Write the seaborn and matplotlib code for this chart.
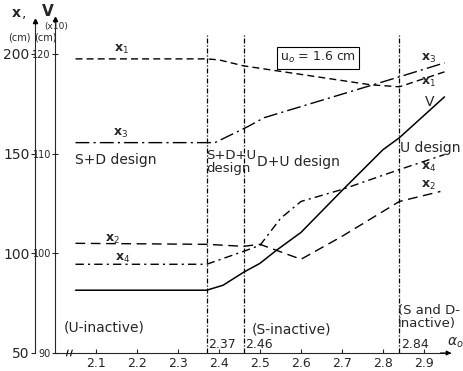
import matplotlib
matplotlib.use("Agg")
import matplotlib.pyplot as plt
from matplotlib.lines import Line2D
import seaborn as sns

# Design variables x_i and volume V against alpha_o
alpha_x1 = [2.05, 2.37, 2.40, 2.46, 2.77, 2.84, 2.95]
x1 = [197.5, 197.5, 197.0, 194.0, 184.5, 183.5, 191.0]

alpha_x3 = [2.05, 2.39, 2.47, 2.51, 2.84, 2.95]
x3 = [155.5, 155.5, 163.5, 168.0, 188.5, 195.5]

alpha_x2 = [2.05, 2.37, 2.46, 2.50, 2.60, 2.70, 2.84, 2.94]
x2 = [105.0, 104.5, 103.5, 104.5, 97.0, 108.5, 126.0, 131.0]

alpha_x4 = [2.05, 2.37, 2.46, 2.50, 2.55, 2.60, 2.70, 2.84, 2.95]
x4 = [94.5, 94.5, 101.0, 104.0, 117.5, 126.0, 132.0, 142.0, 149.5]

alpha_v = [2.05, 2.37, 2.41, 2.46, 2.50, 2.54, 2.60, 2.70, 2.80, 2.84, 2.95]
V = [96.3, 96.3, 96.8, 98.1, 99.0, 100.3, 102.1, 106.3, 110.4, 111.6, 115.7]

boundaries = [2.37, 2.46, 2.84]
boundary_labels = ["2.37", "2.46", "2.84"]
xticks = [2.1, 2.2, 2.3, 2.4, 2.5, 2.6, 2.7, 2.8, 2.9]
x_ticks_left = [50, 100, 150, 200]
v_ticks = [90, 100, 110, 120]

sns.set_style("ticks")
plt.rcParams["font.family"] = ["DejaVu Sans"]

W, H = 463, 371
fig = plt.figure(figsize=(W / 100, H / 100), dpi=100)
left_px, right_px, top_px, bot_px = 55, 450, 20, 353
ax = fig.add_axes([left_px / W, 1 - bot_px / H, (right_px - left_px) / W,
                   (bot_px - top_px) / H])
ax.patch.set_alpha(0)

a_min = 2.0
a_max = 2.0 + (right_px - left_px) / 410
x_top = 200 + (54 - top_px) / 2
v_top = 120 + (54 - top_px) / 9.97
ax.set_xlim(a_min, a_max)
ax.set_ylim(50, x_top)

k = dict(color="black", lw=1.0, ax=ax, legend=False)
sns.lineplot(x=alpha_x1, y=x1, linestyle=(0, (5, 3)), **k)
sns.lineplot(x=alpha_x3, y=x3, linestyle=(0, (10, 3, 1.5, 3)), **k)
sns.lineplot(x=alpha_x2, y=x2, linestyle=(0, (7, 4)), **k)
sns.lineplot(x=alpha_x4, y=x4, linestyle=(0, (6, 3, 1.5, 3)), **k)

# Boundaries between design regimes
for b in boundaries:
    ax.plot([b, b], [50, 209.5], color="black", lw=0.9,
            linestyle=(0, (4, 1.5, 1, 1.5)))

# Volume on its own scale
ax2 = ax.twinx()
ax2.set_ylim(90, v_top)
sns.lineplot(x=alpha_v, y=V, color="black", lw=1.1, ax=ax2, legend=False)

# Spines and ticks
for s in ["top", "right"]:
    ax.spines[s].set_visible(False)
    ax2.spines[s].set_visible(False)
ax.spines["left"].set_position(("axes", -20 / (right_px - left_px)))
ax2.spines["left"].set_visible(True)
ax2.spines["left"].set_position(("axes", 0))
ax2.spines["bottom"].set_visible(False)
ax2.yaxis.tick_left()

ax.set_xticks(xticks)
ax.set_xticklabels([f"{t:.1f}" for t in xticks], fontsize=9)
ax.tick_params(axis="x", direction="in", length=3, width=0.8, pad=3)
ax.set_yticks(x_ticks_left)
ax.set_yticklabels([str(t) for t in x_ticks_left], fontsize=10)
ax.tick_params(axis="y", direction="out", length=3, width=0.8, pad=1)
ax2.set_yticks(v_ticks)
ax2.set_yticklabels([str(t) for t in v_ticks], fontsize=7)
ax2.tick_params(axis="y", direction="inout", length=4, width=0.8, pad=1)
ax.set_xlabel("")
ax.set_ylabel("")
ax2.set_ylabel("")

# Axis break on the alpha axis
for xb in (2.030, 2.040):
    ax.plot([xb - 0.002, xb + 0.002], [48.5, 51.5], color="black", lw=0.8,
            clip_on=False)

# Arrow heads on the axes
ax.annotate("", xy=(a_max + 0.01, 50), xytext=(a_max - 0.03, 50),
            arrowprops=dict(arrowstyle="-|>", color="black", lw=0.8,
                            mutation_scale=7), annotation_clip=False)
for px, py in ((35.3, 21), (55.3, 19)):
    fig.add_artist(Line2D([px / W], [1 - py / H], marker="^", markersize=3,
                          color="black", transform=fig.transFigure))

# Axis headings
fig.text(455 / W, 1 - 350 / H, r"$\alpha_o$", fontsize=10, ha="center", va="bottom")
fig.text(12 / W, 1 - 13 / H, "x", fontsize=10, fontweight="bold", ha="left", va="center")
fig.text(22 / W, 1 - 13 / H, ",", fontsize=10, ha="left", va="center")
fig.text(42 / W, 1 - 12 / H, "V", fontsize=11, fontweight="bold", ha="left", va="center")
fig.text(44 / W, 1 - 26 / H, "(x10)", fontsize=6.5, ha="left", va="center")
fig.text(8 / W, 1 - 38 / H, "(cm)", fontsize=7, ha="left", va="center")
fig.text(34 / W, 1 - 38 / H, "(cm)", fontsize=7, ha="left", va="center")

# Curve labels
lab = dict(fontsize=9, ha="center", va="center", fontweight="bold")
ax.text(2.163, 202, r"x$_1$", **lab)
ax.text(2.159, 160, r"x$_3$", **lab)
ax.text(2.139, 107, r"x$_2$", **lab)
ax.text(2.166, 97.5, r"x$_4$", **lab)
ax.text(2.91, 197.5, r"x$_3$", **lab)
ax.text(2.91, 185.5, r"x$_1$", **lab)
ax.text(2.913, 176, "V", fontsize=10, ha="center", va="center")
ax.text(2.91, 143, r"x$_4$", **lab)
ax.text(2.91, 134, r"x$_2$", **lab)

# Regime annotations
rt = dict(fontsize=10, ha="left", va="center")
ax.text(2.049, 147, "S+D design", **rt)
ax.text(2.368, 146, "S+D+U\ndesign", fontsize=9.5, ha="left", va="center",
        linespacing=1.0)
ax.text(2.493, 146, "D+U design", **rt)
ax.text(2.841, 153, "U design", **rt)
ax.text(2.022, 63, "(U-inactive)", **rt)
ax.text(2.480, 62, "(S-inactive)", **rt)
ax.text(2.837, 68, "(S and D-\ninactive)", fontsize=9.5, ha="left", va="center",
        linespacing=1.0)
for b, t in zip(boundaries, boundary_labels):
    ax.text(b + 0.003, 54.5, t, fontsize=9, ha="left", va="center")

ax.text(2.641, 198, r"u$_o$ = 1.6 cm", fontsize=9, ha="center", va="center",
        bbox=dict(boxstyle="square,pad=0.25", fc="white", ec="black", lw=0.8))

fig.savefig("out.png", dpi=100)
